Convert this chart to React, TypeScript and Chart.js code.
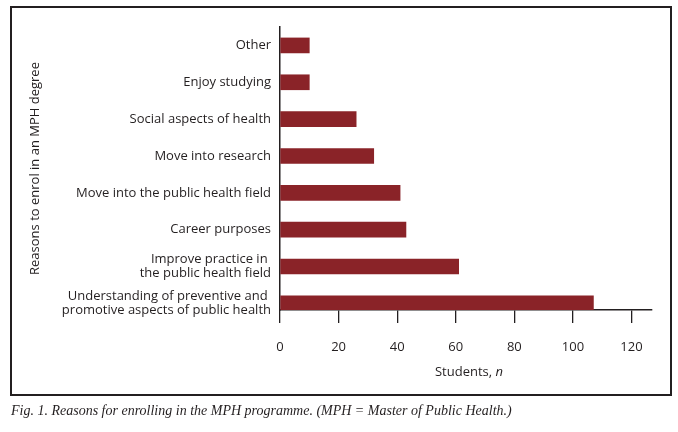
import React, { useEffect, useRef } from "react";
import { Chart, registerables } from "chart.js";

Chart.register(...registerables);

const categories: (string | string[])[] = [
  "Other",
  "Enjoy studying",
  "Social aspects of health",
  "Move into research",
  "Move into the public health field",
  "Career purposes",
  ["Improve practice in ", "the public health field"],
  ["Understanding of preventive and ", "promotive aspects of public health"],
];
const students = [10, 10, 26, 32, 41, 43, 61, 107];
const xTicks = [0, 20, 40, 60, 80, 100, 120];
const xMax = 127;
const yTitle = "Reasons to enrol in an MPH degree";
const xTitleMain = "Students, ";
const xTitleItalic = "n";
const caption = "Fig. 1. Reasons for enrolling in the MPH programme. (MPH = Master of Public Health.)";

const INK = "#231f20";
const BAR = "#8a2328";
const FONT = '"Open Sans"';

export default function App() {
  const ref = useRef<HTMLCanvasElement | null>(null);
  useEffect(() => {
    if (!ref.current) return;
    const xTitlePlugin = {
      id: "xTitle",
      afterDraw(chart: any) {
        const { ctx, chartArea } = chart;
        ctx.save();
        ctx.fillStyle = INK;
        ctx.textBaseline = "middle";
        ctx.font = `13px ${FONT}`;
        const w1 = ctx.measureText(xTitleMain).width;
        ctx.font = `italic 13px ${FONT}`;
        const w2 = ctx.measureText(xTitleItalic).width;
        const cx = (chartArea.left + chartArea.right) / 2 + 3;
        const x0 = cx - (w1 + w2) / 2;
        const y = chartArea.bottom + 62;
        ctx.font = `13px ${FONT}`;
        ctx.textAlign = "left";
        ctx.fillText(xTitleMain, x0, y);
        ctx.font = `italic 13px ${FONT}`;
        ctx.fillText(xTitleItalic, x0 + w1, y);
        ctx.restore();
      },
    };
    const chart = new Chart(ref.current, {
      type: "bar",
      data: {
        datasets: [
          {
            data: students.map((v, i) => ({ x: v, y: i })),
            backgroundColor: BAR,
            borderWidth: 0,
            barThickness: 15,
          },
        ],
      },
      options: {
        indexAxis: "y",
        animation: false,
        responsive: false,
        layout: { padding: { top: 27, right: 26, left: 0, bottom: 0 } },
        plugins: { legend: { display: false }, tooltip: { enabled: false } },
        scales: {
          x: {
            type: "linear",
            bounds: "data",
            offset: false,
            min: 0,
            max: xMax,
            afterBuildTicks: (scale: any) => {
              scale.ticks = xTicks.map((v) => ({ value: v }));
            },
            afterFit: (scale: any) => {
              scale.height = 122;
            },
            border: { display: true, color: INK, width: 1.5 },
            grid: {
              display: true,
              drawOnChartArea: false,
              drawTicks: true,
              tickLength: 13,
              color: INK,
              lineWidth: 1.3,
            },
            ticks: {
              color: INK,
              font: { family: FONT, size: 13 },
              padding: 16,
              maxRotation: 0,
            },
            title: { display: false },
          },
          y: {
            type: "linear",
            bounds: "data",
            offset: false,
            reverse: true,
            min: -0.5,
            max: 7.18,
            afterBuildTicks: (scale: any) => {
              scale.ticks = categories.map((_, i) => ({ value: i }));
            },
            afterFit: (scale: any) => {
              scale.width = 280;
            },
            border: { display: true, color: INK, width: 1.5 },
            grid: { display: true, drawOnChartArea: false, drawTicks: false },
            ticks: {
              color: INK,
              font: { family: FONT, size: 13, lineHeight: 1.05 },
              padding: 9,
              autoSkip: false,
              callback: (v: any) => categories[v as number] as any,
            },
            title: {
              display: true,
              text: yTitle,
              color: INK,
              font: { family: FONT, size: 13 },
              padding: { top: 27, bottom: 0 },
            },
          },
        },
      },
      plugins: [xTitlePlugin],
    } as any);
    return () => chart.destroy();
  }, []);

  return (
    <div style={{ position: "absolute", left: 0, top: 0, width: 678, height: 432, background: "#fff" }}>
      <div
        style={{
          position: "absolute",
          left: 10,
          top: 6,
          width: 662,
          height: 390,
          boxSizing: "border-box",
          border: `2px solid ${INK}`,
        }}
      />
      <canvas ref={ref} width={678} height={432} style={{ position: "absolute", left: 0, top: 0 }} />
      <div
        style={{
          position: "absolute",
          left: 11,
          top: 402,
          fontFamily: '"Liberation Serif", serif',
          fontStyle: "italic",
          fontSize: 14,
          color: INK,
          whiteSpace: "nowrap",
          lineHeight: "18px",
        }}
      >
        {caption}
      </div>
    </div>
  );
}
